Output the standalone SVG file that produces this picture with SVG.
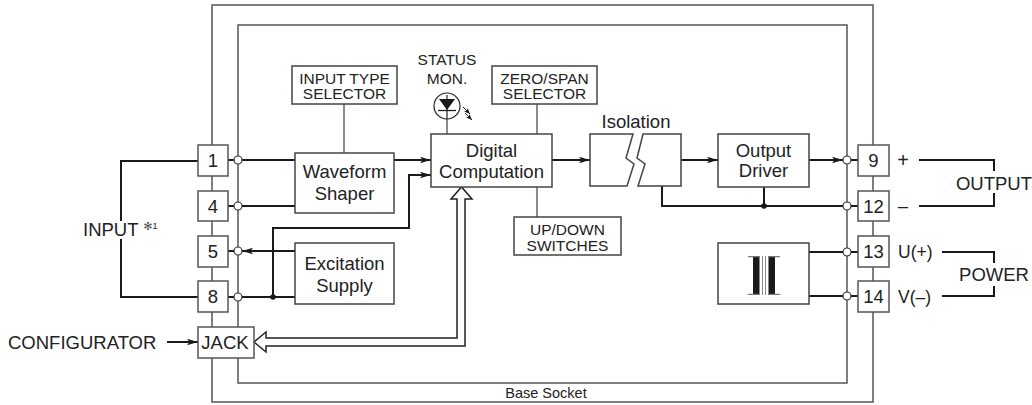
<svg xmlns="http://www.w3.org/2000/svg" width="1032" height="405" viewBox="0 0 1032 405">
<defs>
<marker id="ah" markerUnits="userSpaceOnUse" markerWidth="12" markerHeight="8" refX="11" refY="4" orient="auto">
<path d="M0,0.8 L11,4 L0,7.2 L2.5,4 z" fill="#1a1a1a"/>
</marker>
<marker id="ahs" markerUnits="userSpaceOnUse" markerWidth="7" markerHeight="6" refX="6" refY="3" orient="auto">
<path d="M0,0.5 L6,3 L0,5.5 L1.5,3 z" fill="#1a1a1a"/>
</marker>
<style>
text{font-family:"Liberation Sans",Arial,Helvetica,sans-serif;fill:#222;}
.t18{font-size:18.5px;text-anchor:middle;}
.t15{font-size:15.5px;text-anchor:middle;}
.box{fill:#fff;stroke:#444;stroke-width:1.5;}
.term{fill:#fff;stroke:#555;stroke-width:1.5;}
.frame{fill:none;stroke:#555;stroke-width:1.5;}
.w{fill:none;stroke:#1a1a1a;stroke-width:2;}
.g{fill:none;stroke:#666;stroke-width:1.5;}
.dot{fill:#1a1a1a;}
.node{fill:#fff;stroke:#333;stroke-width:1.2;}
</style>
</defs>
<rect width="1032" height="405" fill="#fff"/>

<g id="frames">
<rect class="frame" x="212" y="5" width="661" height="397"/>
<rect class="frame" x="238" y="25" width="609" height="358"/>
<text x="546" y="398" style="font-size:14.5px;text-anchor:middle;">Base Socket</text>
</g>

<g id="connectors">
<polyline class="w" points="198,161 121,161 121,221"/>
<polyline class="w" points="121,239 121,297 198,297"/>
<line class="w" x1="228" y1="160" x2="234" y2="160"/>
<line class="w" x1="228" y1="206" x2="234" y2="206"/>
<line class="w" x1="228" y1="251" x2="234" y2="251"/>
<line class="w" x1="228" y1="297" x2="234" y2="297"/>
<line class="w" x1="242" y1="160" x2="295" y2="160"/>
<line class="w" x1="242" y1="206" x2="295" y2="206"/>
<line class="w" x1="295" y1="251" x2="242" y2="251" marker-end="url(#ah)"/>
<line class="w" x1="242" y1="297" x2="295" y2="297"/>
<polyline class="w" points="273,297 273,228 409,228 409,175 431,175" marker-end="url(#ah)"/>
<line class="w" x1="394" y1="160" x2="431" y2="160" marker-end="url(#ah)"/>
<line class="w" x1="552" y1="160" x2="590" y2="160" marker-end="url(#ah)"/>
<line class="w" x1="681" y1="160" x2="718" y2="160" marker-end="url(#ah)"/>
<line class="w" x1="809" y1="160" x2="843" y2="160" marker-end="url(#ah)"/>
<polyline class="w" points="662,186 662,206 843,206"/>
<line class="w" x1="764" y1="187" x2="764" y2="206"/>
<line class="w" x1="809" y1="252" x2="843" y2="252"/>
<line class="w" x1="809" y1="296" x2="843" y2="296"/>
<line class="w" x1="851" y1="160" x2="858" y2="160"/>
<line class="w" x1="851" y1="206" x2="858" y2="206"/>
<line class="w" x1="851" y1="252" x2="858" y2="252"/>
<line class="w" x1="851" y1="296" x2="858" y2="296"/>
<line class="g" x1="344" y1="104" x2="344" y2="153"/>
<line class="g" x1="537" y1="104" x2="537" y2="134"/>
<line class="g" x1="537" y1="187" x2="537" y2="217"/>
<line class="g" x1="447" y1="119" x2="447" y2="134"/>
<polyline class="w" points="919,160 994,160 994,171"/>
<polyline class="w" points="994,193 994,206 919,206"/>
<polyline class="w" points="942,252 994,252 994,263"/>
<polyline class="w" points="994,286 994,296 942,296"/>
<line class="w" x1="167" y1="342" x2="198" y2="342" marker-end="url(#ah)"/>
<path d="M254,342 L266,332 L266,338 L457,338 L457,199 L451,199 L461.5,187 L472,199 L465,199 L465,346 L266,346 L266,352 Z" fill="#fff" stroke="#222" stroke-width="1.5" stroke-linejoin="miter"/>
<circle class="dot" cx="273" cy="297" r="2.8"/>
<circle class="dot" cx="764" cy="206" r="2.8"/>
</g>

<g id="circles">
<circle class="node" cx="238" cy="160" r="4"/>
<circle class="node" cx="238" cy="206" r="4"/>
<circle class="node" cx="238" cy="251" r="4"/>
<circle class="node" cx="238" cy="297" r="4"/>
<circle class="node" cx="847" cy="160" r="4"/>
<circle class="node" cx="847" cy="206" r="4"/>
<circle class="node" cx="847" cy="252" r="4"/>
<circle class="node" cx="847" cy="296" r="4"/>
</g>

<g id="input-label">
<text x="83" y="236" style="font-size:18.5px;">INPUT <tspan style="font-family:'DejaVu Sans',sans-serif;font-size:11px;fill:#555;" dy="-6">✻</tspan><tspan style="font-size:9px;" dy="-1">1</tspan></text>
</g>
<g id="configurator-label"><text x="8" y="349" style="font-size:18.5px;">CONFIGURATOR</text></g>

<g id="t1"><rect class="term" x="198" y="145" width="30" height="31"/><text class="t18" x="213" y="167">1</text></g>
<g id="t4"><rect class="term" x="198" y="191" width="30" height="30"/><text class="t18" x="213" y="213">4</text></g>
<g id="t5"><rect class="term" x="198" y="236" width="30" height="31"/><text class="t18" x="213" y="258">5</text></g>
<g id="t8"><rect class="term" x="198" y="281" width="30" height="31"/><text class="t18" x="213" y="303">8</text></g>
<g id="jack"><rect class="term" x="198" y="327" width="56" height="31"/><text class="t18" x="225" y="349">JACK</text></g>

<g id="t9"><rect class="term" x="858" y="145" width="31" height="31"/><text class="t18" x="873.5" y="167">9</text></g>
<g id="t12"><rect class="term" x="858" y="191" width="31" height="30"/><text class="t18" x="873.5" y="213">12</text></g>
<g id="t13"><rect class="term" x="858" y="236" width="31" height="31"/><text class="t18" x="873.5" y="258">13</text></g>
<g id="t14"><rect class="term" x="858" y="281" width="31" height="31"/><text class="t18" x="873.5" y="303">14</text></g>

<g id="right-labels">
<text x="903" y="167" style="font-size:20px;text-anchor:middle;">+</text>
<text class="t18" x="903" y="212">–</text>
<text x="898" y="258" style="font-size:17.5px;">U(+)</text>
<text x="898" y="303" style="font-size:17.5px;">V(–)</text>
<text x="994" y="190" class="t18">OUTPUT</text>
<text x="994" y="281" class="t18">POWER</text>
</g>

<g id="input-type-selector"><rect class="box" x="292" y="66" width="105" height="38"/><text class="t15" x="344.5" y="84">INPUT TYPE</text><text class="t15" x="344.5" y="99">SELECTOR</text></g>
<g id="zero-span-selector"><rect class="box" x="492" y="66" width="105" height="38"/><text class="t15" x="544.5" y="84">ZERO/SPAN</text><text class="t15" x="544.5" y="99">SELECTOR</text></g>
<g id="up-down-switches"><rect class="box" x="514" y="217" width="107" height="38"/><text class="t15" x="567.5" y="235">UP/DOWN</text><text class="t15" x="567.5" y="251">SWITCHES</text></g>

<g id="status-mon">
<text class="t15" x="447" y="65">STATUS</text>
<text class="t15" x="447" y="84">MON.</text>
<circle cx="447" cy="106" r="13" fill="#fff" stroke="#222" stroke-width="1.2"/>
<line x1="447" y1="95" x2="447" y2="119" stroke="#222" stroke-width="1.2"/>
<path d="M439,99 L455,99 L447,110 Z" fill="#1a1a1a"/>
<line x1="438" y1="110.5" x2="456" y2="110.5" stroke="#222" stroke-width="1.3"/>
<line x1="463" y1="107" x2="470" y2="114" stroke="#222" stroke-width="1" marker-end="url(#ahs)"/>
<line x1="465" y1="113" x2="472" y2="120" stroke="#222" stroke-width="1" marker-end="url(#ahs)"/>
</g>

<g id="waveform-shaper"><rect class="box" x="295" y="153" width="99" height="60"/><text class="t18" x="344.5" y="178">Waveform</text><text class="t18" x="344.5" y="200">Shaper</text></g>
<g id="excitation-supply"><rect class="box" x="295" y="243" width="99" height="61"/><text class="t18" x="344.5" y="270">Excitation</text><text class="t18" x="344.5" y="292">Supply</text></g>
<g id="digital-computation"><rect class="box" x="431" y="134" width="121" height="53"/><text class="t18" x="491.5" y="157">Digital</text><text class="t18" x="491.5" y="178">Computation</text></g>

<g id="isolation">
<text class="t18" x="636" y="128">Isolation</text>
<path class="box" d="M590,134 L633,134 L626,158 L634,164 L627,186 L590,186 Z"/>
<path class="box" d="M643,134 L681,134 L681,186 L638,186 L645,164 L637,158 Z"/>
</g>

<g id="output-driver"><rect class="box" x="718" y="134" width="91" height="53"/><text class="t18" x="763.5" y="157">Output</text><text class="t18" x="763.5" y="177">Driver</text></g>

<g id="power-transformer">
<rect class="box" x="718" y="243" width="91" height="61"/>
<rect x="753" y="256" width="6.5" height="39" fill="#1a1a1a"/>
<line x1="748" y1="256.6" x2="759" y2="256.6" stroke="#777" stroke-width="1.2"/>
<line x1="748" y1="294.4" x2="759" y2="294.4" stroke="#777" stroke-width="1.2"/>
<line x1="762.5" y1="256" x2="762.5" y2="295" stroke="#888" stroke-width="1"/>
<line x1="765.5" y1="256" x2="765.5" y2="295" stroke="#888" stroke-width="1"/>
<rect x="768.5" y="256" width="6.5" height="39" fill="#1a1a1a"/>
<line x1="768.5" y1="256.6" x2="780" y2="256.6" stroke="#777" stroke-width="1.2"/>
<line x1="768.5" y1="294.4" x2="780" y2="294.4" stroke="#777" stroke-width="1.2"/>
</g>
</svg>
